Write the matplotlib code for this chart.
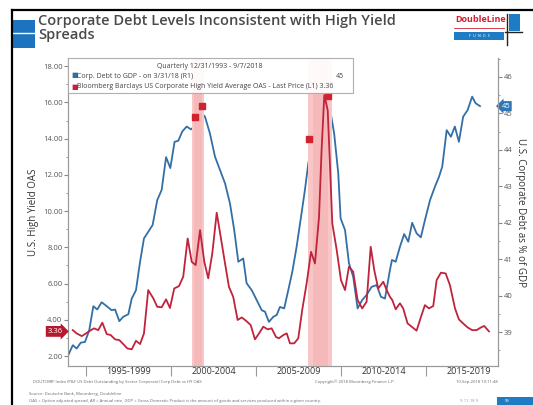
import matplotlib
matplotlib.use("Agg")
import matplotlib.pyplot as plt
import matplotlib.patches as mpatches
import matplotlib.transforms as mtransforms

plt.rcParams['font.family'] = ['Open Sans', 'DejaVu Sans']

# Corp. debt to GDP (%), right axis - decimal year / value
debt_years = [1993.96, 1994.22, 1994.45, 1994.69, 1994.94, 1995.19, 1995.43, 1995.66, 1995.92,
              1996.22, 1996.51, 1996.71, 1996.96, 1997.19, 1997.49, 1997.69, 1997.94, 1998.18,
              1998.41, 1998.66, 1998.92, 1999.19, 1999.45, 1999.71, 1999.96, 2000.21, 2000.43,
              2000.66, 2000.92, 2001.18, 2001.45, 2001.81, 2002.0, 2002.29, 2002.59, 2002.88,
              2003.18, 2003.47, 2003.72, 2003.96, 2004.25, 2004.45, 2004.75, 2005.04, 2005.34,
              2005.53, 2005.76, 2006.02, 2006.22, 2006.41, 2006.66, 2006.9, 2007.14, 2007.39,
              2007.65, 2007.88, 2008.08, 2008.31, 2008.57, 2008.82, 2009.02, 2009.16, 2009.35,
              2009.6, 2009.84, 2009.98, 2010.24, 2010.47, 2010.72, 2010.98, 2011.25, 2011.51,
              2011.8, 2012.1, 2012.35, 2012.59, 2012.88, 2013.0, 2013.22, 2013.47, 2013.72,
              2013.96, 2014.19, 2014.45, 2014.7, 2014.94, 2015.24, 2015.53, 2015.76, 2015.96,
              2016.22, 2016.47, 2016.7, 2016.94, 2017.19, 2017.45, 2017.72, 2017.92, 2018.18]
debt_vals = [38.37, 38.64, 38.55, 38.71, 38.73, 39.05, 39.71, 39.62, 39.82,
             39.71, 39.6, 39.62, 39.3, 39.42, 39.49, 39.92, 40.15, 40.93,
             41.57, 41.75, 41.94, 42.62, 42.9, 43.8, 43.5, 44.22, 44.25,
             44.5, 44.64, 44.56, 44.68, 45.0, 44.91, 44.45, 43.81, 43.45,
             43.08, 42.53, 41.8, 40.93, 41.02, 40.34, 40.15, 39.88, 39.6,
             39.56, 39.28, 39.42, 39.47, 39.69, 39.65, 40.15, 40.66, 41.34,
             42.16, 42.9, 43.63, 44.22, 44.5, 44.82, 45.14, 45.29, 45.14,
             44.45, 43.36, 42.12, 41.8, 40.89, 40.52, 39.65, 39.88, 40.02,
             40.24, 40.29, 39.97, 39.92, 40.7, 40.98, 40.93, 41.34, 41.69,
             41.48, 42.0, 41.71, 41.6, 42.07, 42.62, 42.99, 43.25, 43.54,
             44.54, 44.36, 44.64, 44.22, 44.91, 45.09, 45.46, 45.28, 45.2]

# HY OAS (%), left axis
oas_years = [1994.22, 1994.45, 1994.75, 1995.0, 1995.24, 1995.47, 1995.72, 1995.96, 1996.22,
             1996.45, 1996.71, 1996.96, 1997.19, 1997.43, 1997.69, 1997.94, 1998.18, 1998.41,
             1998.66, 1998.96, 1999.19, 1999.45, 1999.71, 1999.94, 2000.19, 2000.47, 2000.72,
             2000.98, 2001.22, 2001.45, 2001.71, 2001.96, 2002.19, 2002.43, 2002.69, 2002.94,
             2003.18, 2003.41, 2003.66, 2003.92, 2004.16, 2004.41, 2004.69, 2004.94, 2005.18,
             2005.43, 2005.69, 2005.92, 2006.18, 2006.35, 2006.61, 2006.81, 2007.0, 2007.25,
             2007.49, 2007.72, 2007.98, 2008.24, 2008.47, 2008.71, 2008.86, 2009.02, 2009.22,
             2009.35, 2009.49, 2009.75, 2010.0, 2010.24, 2010.47, 2010.72, 2010.98, 2011.25,
             2011.51, 2011.75, 2011.96, 2012.19, 2012.49, 2012.69, 2012.88, 2013.02, 2013.22,
             2013.47, 2013.66, 2013.92, 2014.16, 2014.45, 2014.71, 2014.94, 2015.18, 2015.43,
             2015.63, 2015.88, 2016.16, 2016.41, 2016.71, 2016.94, 2017.19, 2017.45, 2017.72,
             2017.98, 2018.24, 2018.43, 2018.71]
oas_vals = [3.43, 3.25, 3.10, 3.25, 3.40, 3.53, 3.43, 3.84, 3.21,
            3.16, 2.92, 2.88, 2.66, 2.42, 2.37, 2.84, 2.66, 3.25,
            5.64, 5.18, 4.72, 4.69, 5.13, 4.65, 5.73, 5.86, 6.38,
            8.49, 7.2, 7.02, 8.95, 7.2, 6.29, 7.67, 9.91, 8.49,
            7.11, 5.82, 5.27, 3.99, 4.13, 3.95, 3.71, 2.92, 3.25,
            3.62, 3.47, 3.53, 3.05, 2.98, 3.16, 3.25, 2.70, 2.70,
            2.98, 4.54, 6.01, 7.75, 7.11, 9.69, 13.37, 16.4, 15.57,
            12.63, 9.32, 7.85, 6.19, 5.64, 6.93, 6.65, 5.09, 4.63,
            5.0, 8.03, 6.74, 5.73, 6.1, 5.64, 5.27, 5.09, 4.58,
            4.91, 4.63, 3.80, 3.62, 3.40, 4.17, 4.81, 4.63, 4.76,
            6.19, 6.6, 6.56, 5.92, 4.63, 4.02, 3.80, 3.58, 3.43,
            3.43, 3.58, 3.66, 3.36]

# recessions (start, end) and event flags
recessions = [(2001.24, 2001.94), (2008.06, 2009.5)]
event_years = [2001.41, 2001.80, 2008.12, 2009.25]
event_levels = [15.19, 15.79, 13.96, 16.34]

period_labels = ["1995-1999", "2000-2004", "2005-2009", "2010-2014", "2015-2019"]
period_starts = [1995, 2000, 2005, 2010, 2015]

RED = '#c0233c'
BLUE = '#336fa6'
GREY = '#555555'

W, H = 533, 405
fig = plt.figure(figsize=(W / 100, H / 100), dpi=100)


def fx(x):
    return x / W


def fy(y):
    return 1 - y / H


ax = fig.add_axes([fx(68), fy(366), fx(498) - fx(68), fy(58) - fy(366)])
ax2 = ax.twinx()

for s, e in recessions:
    ax.axvspan(s, e, color='#f8c6c6', lw=0, zorder=0)
    m = (s + e) / 2
    ax.axvspan(m - (e - s) * 0.3, m + (e - s) * 0.3, color='#f4adad', lw=0, zorder=0, alpha=0.5)

ax.plot(oas_years, oas_vals, color=RED, lw=1.3, zorder=3)
ax2.plot(debt_years, debt_vals, color=BLUE, lw=1.3, zorder=3)
ax.scatter(event_years, event_levels, marker='s', s=16, color='#d1232f', zorder=4)

ax.set_xlim(1993.94, 2019.24)
ax.set_ylim(1.45, 18.45)
ax2.set_ylim(38.07, 46.52)
ax.set_zorder(ax2.get_zorder() + 1)
ax.patch.set_visible(False)

ax.set_yticks(range(2, 19, 2))
ax.set_yticks(range(2, 19, 1), minor=True)
ax.set_yticklabels(['%.2f' % v for v in range(2, 19, 2)])
ax2.set_yticks(range(39, 47))
ax2.set_yticks([v + 0.5 for v in range(38, 47)], minor=True)

ax.set_xticks(period_starts)
ax.set_xticklabels([])
ax.set_xticks([p + 2.5 for p in period_starts], minor=True)
ax.set_xticklabels(period_labels, minor=True)
ax.tick_params(axis='x', which='major', direction='out', length=7, color='#999999')
ax.tick_params(axis='x', which='minor', length=0, labelsize=6.5, labelcolor='#333333', pad=1)
ax.tick_params(axis='y', which='both', direction='out', color='#888888', labelsize=5.5,
               labelcolor=GREY, pad=1)
ax.tick_params(axis='y', which='major', length=3)
ax.tick_params(axis='y', which='minor', length=1.5)
ax2.tick_params(axis='y', which='both', direction='out', color='#888888', labelsize=5.5,
                labelcolor=GREY, pad=1)
ax2.tick_params(axis='y', which='major', length=3)
ax2.tick_params(axis='y', which='minor', length=1.5)

for a in (ax, ax2):
    a.spines['top'].set_visible(False)
    for side in ('left', 'right', 'bottom'):
        a.spines[side].set_color('#999999')
        a.spines[side].set_linewidth(0.8)

ax.set_ylabel("U.S. High Yield OAS", fontsize=7, color='#333333', labelpad=3)
ax2.set_ylabel("U.S. Corporate Debt as % of GDP", fontsize=7, color='#333333',
               rotation=-90, labelpad=10)

# last value tags
tr = mtransforms.blended_transform_factory(ax.transAxes, ax.transData)
ax.text(-0.012, oas_vals[-1], '%.2f' % oas_vals[-1], transform=tr, ha='right', va='center',
        fontsize=5.5, color='white', clip_on=False,
        bbox=dict(boxstyle='rarrow,pad=0.25', fc='#b8182e', ec='none'))
tr2 = mtransforms.blended_transform_factory(ax2.transAxes, ax2.transData)
ax2.text(1.008, debt_vals[-1], '%d' % round(debt_vals[-1]), transform=tr2, ha='left',
         va='center', fontsize=5.5, color='white', clip_on=False,
         bbox=dict(boxstyle='larrow,pad=0.2', fc='#2f78b8', ec='none'))

# legend box
fig.patches.append(mpatches.Rectangle((fx(68), fy(93)), fx(353) - fx(68), fy(58) - fy(93),
                                      transform=fig.transFigure, fc='white', ec='#aaaaaa',
                                      lw=0.8, alpha=0.92, zorder=5))
fig.text(fx(210), fy(66), "Quarterly 12/31/1993 - 9/7/2018", fontsize=5, color='#444444',
         ha='center', va='center', zorder=6)
fig.text(fx(71), fy(76), "\u25a0", fontsize=5, color=BLUE, va='center', zorder=6)
fig.text(fx(77), fy(76), "Corp. Debt to GDP - on 3/31/18 (R1)", fontsize=5, color='#444444',
         va='center', zorder=6)
fig.text(fx(344), fy(76), '%d' % round(debt_vals[-1]), fontsize=5, color='#444444',
         ha='right', va='center', zorder=6)
fig.text(fx(71), fy(87), "\u25a0", fontsize=5, color=RED, va='center', zorder=6)
fig.text(fx(77), fy(87),
         "Bloomberg Barclays US Corporate High Yield Average OAS - Last Price (L1) %.2f" % oas_vals[-1],
         fontsize=5, color='#444444', va='center', zorder=6)

# title and logos
fig.patches.append(mpatches.Rectangle((fx(13), fy(48)), fx(35) - fx(13), fy(20) - fy(48),
                                      transform=fig.transFigure, fc='#1e73be', ec='none'))
fig.lines.append(plt.Line2D([fx(13), fx(35)], [fy(33), fy(33)], transform=fig.transFigure,
                            color='white', lw=1))
fig.text(fx(38), fy(21), "Corporate Debt Levels Inconsistent with High Yield", fontsize=10.5,
         color='#4a4a4a', weight='semibold', va='center')
fig.text(fx(38), fy(35), "Spreads", fontsize=10.5, color='#4a4a4a', weight='semibold',
         va='center')

fig.text(fx(455), fy(20), "DoubleLine", fontsize=6.5, color='#d0202e', weight='bold',
         va='center')
fig.patches.append(mpatches.Rectangle((fx(454), fy(40)), fx(504) - fx(454), fy(32) - fy(40),
                                      transform=fig.transFigure, fc='#1e7cc4', ec='none'))
fig.text(fx(479), fy(36), "F  U  N  D  S", fontsize=2.8, color='white', ha='center',
         va='center')
fig.lines.append(plt.Line2D([fx(454), fx(504)], [fy(28), fy(28)], transform=fig.transFigure,
                            color='#d0202e', lw=0.6))
fig.patches.append(mpatches.Rectangle((fx(509), fy(31)), fx(520) - fx(509), fy(14) - fy(31),
                                      transform=fig.transFigure, fc='#1e7cc4', ec='none'))
fig.lines.append(plt.Line2D([fx(507), fx(507)], [fy(14), fy(45)], transform=fig.transFigure,
                            color='#222222', lw=1))
fig.lines.append(plt.Line2D([fx(505), fx(522)], [fy(32), fy(32)], transform=fig.transFigure,
                            color='#222222', lw=1))

# outer frame
fig.lines.append(plt.Line2D([fx(12), fx(533)], [fy(10), fy(10)], transform=fig.transFigure,
                            color='black', lw=1.6))
fig.lines.append(plt.Line2D([fx(12), fx(12)], [fy(10), fy(405)], transform=fig.transFigure,
                            color='black', lw=1.6))

# footers
fig.text(fx(33), fy(382), "DOUTCBRF Index (P&F US Debt Outstanding by Sector Corporate) Corp Debt vs HY OAS",
         fontsize=3, color='#666666', va='center')
fig.text(fx(355), fy(382), "Copyright\u00a9 2018 Bloomberg Finance L.P.", fontsize=3,
         color='#666666', va='center', ha='center')
fig.text(fx(498), fy(382), "10-Sep-2018 10:11:48", fontsize=3, color='#666666', va='center',
         ha='right')
fig.text(fx(29), fy(394), "Source: Deutsche Bank, Bloomberg, Doubleline", fontsize=3,
         color='#666666', va='center')
fig.text(fx(29), fy(401),
         "OAS = Option adjusted spread, AR = Annual rate, GDP = Gross Domestic Product is the amount of goods and services produced within a given country.",
         fontsize=3, color='#666666', va='center')
fig.text(fx(478), fy(401), "9-11-18 9", fontsize=3, color='#999999', va='center', ha='right')
fig.patches.append(mpatches.Rectangle((fx(497), 0), fx(533) - fx(497), fy(397),
                                      transform=fig.transFigure, fc='#1e7cc4', ec='none'))
fig.text(fx(505), fy(401), "59", fontsize=3, color='white', va='center')

fig.savefig("out.png", dpi=100)
